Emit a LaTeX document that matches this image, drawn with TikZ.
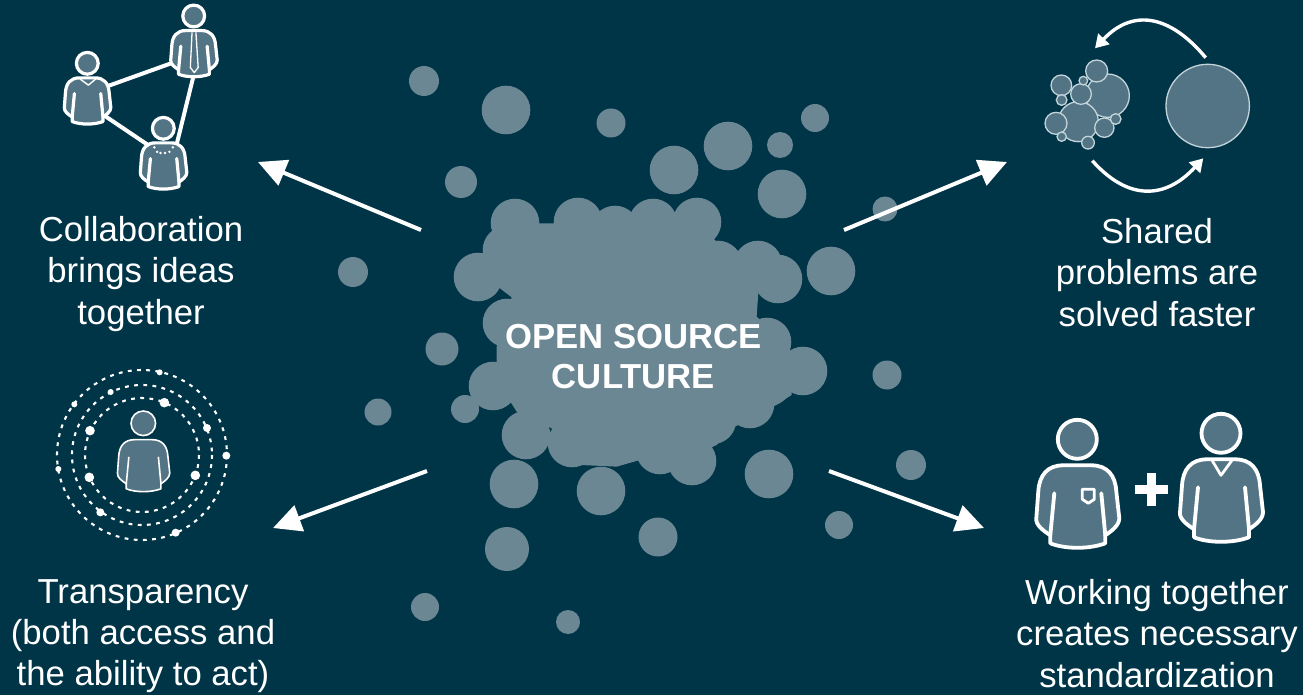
\documentclass[tikz,border=0pt]{standalone}
\usepackage{fontspec}
\setmainfont{Liberation Sans}
\usetikzlibrary{arrows.meta}
\definecolor{bgc}{RGB}{0,53,72}
\definecolor{blobc}{RGB}{106,135,147}
\definecolor{iconc}{RGB}{82,116,133}
\definecolor{rimc}{RGB}{195,212,218}
\tikzset{
  blob/.style={fill=blobc,draw=none},
  bigarrow/.style={draw=white,line width=4pt,-{Triangle[length=28pt,width=27pt]}},
  cyclearrow/.style={draw=white,line width=3.4pt,-{Triangle[length=13pt,width=15pt]}},
  label/.style={text=white,align=center,font=\fontsize{34.7}{41.3}\selectfont},
  title/.style={text=white,align=center,font=\fontsize{34.7}{40}\selectfont\bfseries},
  ring/.style={draw=white,line width=2.1pt,dash pattern=on 3.8pt off 5.4pt},
  bubble/.style={fill=iconc,draw=rimc,line width=1.3pt},
  linkline/.style={draw=white,line width=4pt},
  dotw/.style={fill=white,draw=none}
}
% x, y (head centre), scale, line width, extras
\newcommand\personicon[5]{%
  \begin{scope}[shift={(#1,#2)},scale=#3,line width=#4pt,draw=white,fill=iconc,line join=round,line cap=round]
    \filldraw (0,0) circle (19.5);
    \filldraw (-14,26) -- (14,26) .. controls (30,26) and (38,36) .. (39,52)
      -- (42,79) .. controls (42,86) and (34,92) .. (28,96) -- (28,104)
      .. controls (12,110) and (-12,110) .. (-27,104) -- (-27,96)
      .. controls (-33,92) and (-42,86) .. (-41,79) -- (-39,52)
      .. controls (-38,36) and (-30,26) .. (-14,26) -- cycle;
    \draw (-23,54) -- (-27,96);
    \draw (24,54) -- (28,96);
    #5
  \end{scope}}
\begin{document}
\begin{tikzpicture}[x=1pt,y=-1pt]
\useasboundingbox (0,0) rectangle (1303,695);
\fill[bgc] (0,0) rectangle (1303,695);
% central blob
\begin{scope}[shift={(440,180)},x=.3333pt,y=-.3333pt]
\fill[blob] (140,200) -- (180,325) -- (215,352) -- (170,500) -- (170,600) -- (230,695) -- (335,745) -- (345,775) -- (420,855) -- (530,860) -- (600,840) -- (690,860) -- (830,795) -- (885,740) -- (1000,680) -- (1055,645) -- (1050,500) -- (950,410) -- (955,340) -- (900,215) -- (830,185) -- (770,130) -- (225,130) -- cycle;
\end{scope}
\foreach \x/\y in {515/223,578/222,615/230,653/223,697/222,478/277,507/250,718/265,758/265,778/279,507/323,767/342,803/371,493/386,526/435,572/443,601/491,660/450,692/461,750/404,768/382,712/420}
  \fill[blob] (\x,\y) circle (24.3);
% scattered circles
\foreach \x/\y/\r in {424/81/15,506/110/24.3,611/123/14.5,674/170/24.3,728/146/24.3,780/145/13,815/118/14,782/194/24.3,461/182/16,885/209/12.5,831/271/24.3,353/272/15,442/349/16.5,378/412/13.5,465/409/14,887/375/14.5,769/474/24.3,911/465/15,839/525/14,514/484/24.3,658/537/19.5,507/549/22,425/607/14,568/622/12}
  \fill[blob] (\x,\y) circle (\r);
% main arrows
\coordinate (tlS) at (421,230); \coordinate (tlE) at (258,162);
\coordinate (trS) at (844,230); \coordinate (trE) at (1007,162);
\coordinate (blS) at (427,471); \coordinate (blE) at (273,528);
\coordinate (brS) at (829,471); \coordinate (brE) at (984,528);
\draw[bigarrow] (tlS) -- (tlE);
\draw[bigarrow] (trS) -- (trE);
\draw[bigarrow] (blS) -- (blE);
\draw[bigarrow] (brS) -- (brE);
% collaboration icon
\draw[linkline] (108,86) -- (172,63);
\draw[linkline] (193,78) -- (177,143);
\draw[linkline] (105,116) -- (148,145);
\personicon{87.3}{63.3}{.56}{3.2}{\draw[line width=1.4pt] (-13,28) -- (2,39) -- (15,28);}
\personicon{193.7}{16}{.56}{3.2}{\draw[line width=1.3pt] (-3,30) -- (-6,92) -- (1,101) -- (8,92) -- (4,30);}
\personicon{163.3}{128.3}{.56}{3.2}{\foreach \a/\b in {-16/34,-11/42,-5/44,3/44,11/42,17/34}{\fill[white] (\a,\b) circle (2.4);}}
% shared problems icon
\foreach \x/\y/\r in {233/257/65,145/335/60,200/183/33,94/226/31,153/252/31,160/212/13,95/270/16,78/340/33,223/353/29,257/327/16,95/380/14,174/398/19}
  \filldraw[bubble] ({1030+\x/3},{10+\y/3}) circle ({\r/3});
\filldraw[bubble] (1207.7,106) circle (41.7);
\coordinate (cta) at (1205.7,57.7); \coordinate (ctb) at (1095,48.3);
\coordinate (cba) at (1092.3,160.7); \coordinate (cbb) at (1203.3,158.3);
\draw[cyclearrow] (cta) .. controls (1168.3,12.8) and (1131.4,9.7) .. (ctb);
\draw[cyclearrow] (cba) .. controls (1127.8,200.6) and (1164.8,199.8) .. (cbb);
% transparency icon
\draw[ring] (142,455) circle (85);
\draw[ring] (142,455) circle (70);
\draw[ring] (142,455) circle (57);
\foreach \a/\b in {373/128,150/212,148/352,466/346}
  \fill[dotw] ({40+\a/3},{360+\b/3}) circle (4.8);
\foreach \a/\b in {501/204,181/457,407/518,559/287}
  \fill[dotw] ({40+\a/3},{360+\b/3}) circle (4);
\foreach \a/\b in {212/96,359/37,103/133,55/327}
  \fill[dotw] ({40+\a/3},{360+\b/3}) circle (3);
\personicon{143.3}{423.3}{.63}{1.6}{}
% working together icon
\personicon{1077.3}{439.3}{1}{3.8}{\draw[line width=2.8pt] (5,50) -- (17,50) -- (17,60) -- (11,64) -- (5,60) -- cycle;}
\personicon{1221}{433.3}{1}{3.8}{\draw[line width=2.8pt] (-9,27) -- (0,42) -- (11,27);}
\fill[white] (1134.8,484.5) rectangle (1167.8,494.2);
\fill[white] (1146.5,473) rectangle (1156.2,505.5);
% texts
\node[label] (collab) at (141,274) {Collaboration\\brings ideas\\together};
\node[label] (shared) at (1157,272.5) {Shared\\problems are\\solved faster};
\node[label] (transp) at (143,636) {Transparency\\(both access and\\the ability to act)};
\node[label] (work) at (1157,633.5) {Working together\\creates necessary\\standardization};
\node[title] (core) at (633.5,356.5) {OPEN SOURCE\\CULTURE};
\end{tikzpicture}
\end{document}
